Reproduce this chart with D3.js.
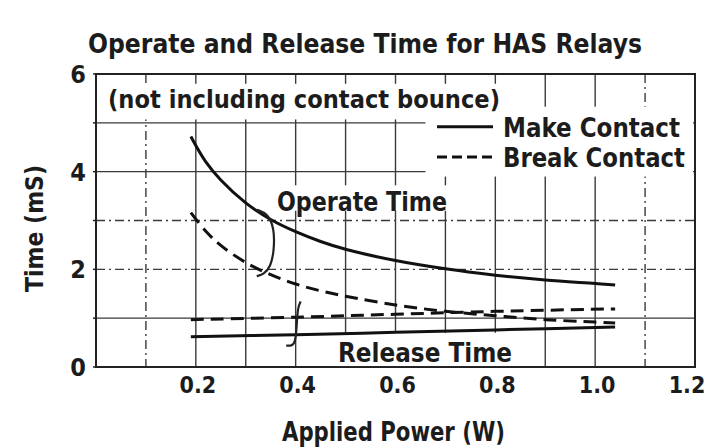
<!DOCTYPE html>
<html lang="en">
<head>
  <meta charset="utf-8">
  <title>Operate and Release Time for HAS Relays</title>
  <style>
    html, body { margin: 0; padding: 0; background: #fff; }
    svg text {
      font-family: "Liberation Sans Narrow", "DejaVu Sans Condensed", "Roboto", sans-serif;
      font-weight: bold;
      fill: #1c1c1c;
    }
  </style>
</head>
<body>
  <div id="chart"></div>

<script src="https://cdn.jsdelivr.net/npm/d3@7"></script>
<script>
  ////////////////////////////////////////////////// DATA
  // applied power (W) where the operate curves were read
  var powerOperate = [0.19, 0.22, 0.25, 0.3, 0.35, 0.4, 0.45, 0.5, 0.6, 0.7, 0.8, 0.9, 1.0, 1.04];
  var makeOperate  = [4.72, 4.20, 3.83, 3.36, 3.02, 2.77, 2.57, 2.41, 2.18, 2.01, 1.88, 1.78, 1.71, 1.68];
  var breakOperate = [3.16, 2.78, 2.49, 2.14, 1.89, 1.70, 1.56, 1.45, 1.27, 1.14, 1.05, 0.97, 0.92, 0.90];

  // applied power (W) where the release lines were read
  var powerRelease = [0.19, 0.4, 0.6, 0.8, 1.04];
  var makeRelease  = [0.62, 0.66, 0.71, 0.76, 0.82];
  var breakRelease = [0.97, 1.02, 1.08, 1.14, 1.19];

  var xTicks = [0.2, 0.4, 0.6, 0.8, 1.0, 1.2];
  var yTicks = [0, 2, 4, 6];

  var titleText    = "Operate and Release Time for HAS Relays";
  var noteText     = "(not including contact bounce)";
  var xTitle       = "Applied Power (W)";
  var yTitle       = "Time (mS)";
  var legendLabels = ["Make Contact", "Break Contact"];

  // bracket marks tying the labels to their curve pairs (data units)
  var operateBracket = [[0.322, 3.22], [0.344, 3.14], [0.357, 2.85], [0.357, 2.4], [0.35, 2.05], [0.336, 1.9], [0.322, 1.86]];
  var releaseBracket = [[0.41, 1.34], [0.404, 1.22], [0.402, 0.8], [0.399, 0.5], [0.392, 0.43], [0.381, 0.44]];

  ////////////////////////////////////////////////// SETUP
  var width = 706, height = 447;
  var plot = { left: 96, right: 695, top: 74, bottom: 367 };

  var x = d3.scaleLinear().domain([0, 1.2]).range([plot.left, plot.right]);
  var y = d3.scaleLinear().domain([0, 6]).range([plot.bottom, plot.top]);

  var svg = d3.select("#chart").append("svg")
      .attr("width", width)
      .attr("height", height);

  ////////////////////////////////////////////////// GRID
  var gridX = d3.range(1, 12).map(function(i){ return i / 10; });
  var gridY = d3.range(1, 6);
  var dashX = [0.1, 1.1], dashY = [2, 3];

  svg.append("g").selectAll("line")
      .data(gridX)
      .join("line")
      .attr("x1", d => x(d)).attr("x2", d => x(d))
      .attr("y1", y(6)).attr("y2", y(0))
      .attr("stroke", "#3a3a3a")
      .attr("stroke-width", 1.4)
      .attr("stroke-dasharray", d => dashX.some(v => Math.abs(v - d) < 1e-6) ? "9,4,2,4" : null);

  svg.append("g").selectAll("line")
      .data(gridY)
      .join("line")
      .attr("x1", x(0)).attr("x2", x(1.2))
      .attr("y1", d => y(d)).attr("y2", d => y(d))
      .attr("stroke", "#3a3a3a")
      .attr("stroke-width", 1.4)
      .attr("stroke-dasharray", d => dashY.indexOf(d) >= 0 ? "9,4,2,4" : null);

  // little outside ticks on the left axis
  svg.append("g").selectAll("line")
      .data(d3.range(0, 7))
      .join("line")
      .attr("x1", x(0) - 3).attr("x2", x(0))
      .attr("y1", d => y(d)).attr("y2", d => y(d))
      .attr("stroke", "#222").attr("stroke-width", 1.5);

  // frame
  svg.append("rect")
      .attr("x", x(0)).attr("y", y(6))
      .attr("width", x(1.2) - x(0))
      .attr("height", y(0) - y(6))
      .attr("fill", "none")
      .attr("stroke", "#222")
      .attr("stroke-width", 2);

  ////////////////////////////////////////////////// LABEL BACKGROUNDS
  function blank(x0, x1, y0, y1) {
    svg.append("rect")
        .attr("x", x(x0)).attr("y", y(y1))
        .attr("width", x(x1) - x(x0))
        .attr("height", y(y0) - y(y1))
        .attr("fill", "#fff");
  }
  blank(0.003, 0.86, 5.07, 5.8);   // note
  blank(0.66, 1.196, 3.9, 5.33);   // legend
  blank(0.355, 0.71, 3.2, 3.72);   // operate time
  blank(0.48, 0.84, 0.02, 0.7);    // release time

  ////////////////////////////////////////////////// CURVES
  var line = d3.line()
      .x(d => x(d[0]))
      .y(d => y(d[1]))
      .curve(d3.curveCatmullRom);

  var series = [
    { xs: powerOperate, ys: makeOperate,  dash: null },
    { xs: powerOperate, ys: breakOperate, dash: "13,7" },
    { xs: powerRelease, ys: breakRelease, dash: "13,7" },
    { xs: powerRelease, ys: makeRelease,  dash: null }
  ];

  svg.append("g").selectAll("path")
      .data(series)
      .join("path")
      .attr("d", s => line(d3.zip(s.xs, s.ys)))
      .attr("fill", "none")
      .attr("stroke", "#111")
      .attr("stroke-width", 3)
      .attr("stroke-dasharray", s => s.dash);

  var bracket = d3.line()
      .x(d => x(d[0]))
      .y(d => y(d[1]))
      .curve(d3.curveBasis);

  svg.append("g").selectAll("path")
      .data([operateBracket, releaseBracket])
      .join("path")
      .attr("d", bracket)
      .attr("fill", "none")
      .attr("stroke", "#222")
      .attr("stroke-width", 2.2);

  ////////////////////////////////////////////////// TEXT
  function label(txt, px, py, size, len, anchor) {
    return svg.append("text")
        .attr("x", px).attr("y", py)
        .attr("font-size", size)
        .attr("text-anchor", anchor || "start")
        .attr("textLength", len)
        .attr("lengthAdjust", "spacingAndGlyphs")
        .text(txt);
  }

  label(titleText, 88, 53, 27, 554);
  label(noteText, 108, 108, 25, 392);
  label("Operate Time", 277, 211, 27, 170);
  label("Release Time", 338, 362, 27, 174);

  // legend
  var legendY = [4.92, 4.3];
  svg.append("g").selectAll("line")
      .data(legendY)
      .join("line")
      .attr("x1", 437).attr("x2", 493)
      .attr("y1", d => y(d)).attr("y2", d => y(d))
      .attr("stroke", "#111")
      .attr("stroke-width", 3)
      .attr("stroke-dasharray", (d, i) => i ? "10,5" : null);

  label(legendLabels[0], 503, y(legendY[0]) + 10, 27, 177);
  label(legendLabels[1], 503, y(legendY[1]) + 10, 27, 182);

  // axis tick labels
  svg.append("g").selectAll("text")
      .data(xTicks)
      .join("text")
      .attr("x", d => Math.min(x(d) + 2, width - 19))
      .attr("y", 393)
      .attr("font-size", 23)
      .attr("text-anchor", "middle")
      .text(d3.format(".1f"));

  svg.append("g").selectAll("text")
      .data(yTicks)
      .join("text")
      .attr("x", 86)
      .attr("y", d => y(d) + 9)
      .attr("font-size", 25)
      .attr("text-anchor", "end")
      .text(d => d);

  label(xTitle, 282, 441, 26, 223);

  svg.append("text")
      .attr("transform", "translate(43,292) rotate(-90)")
      .attr("font-size", 25)
      .attr("textLength", 127)
      .attr("lengthAdjust", "spacingAndGlyphs")
      .text(yTitle);
</script>
</body>
</html>
